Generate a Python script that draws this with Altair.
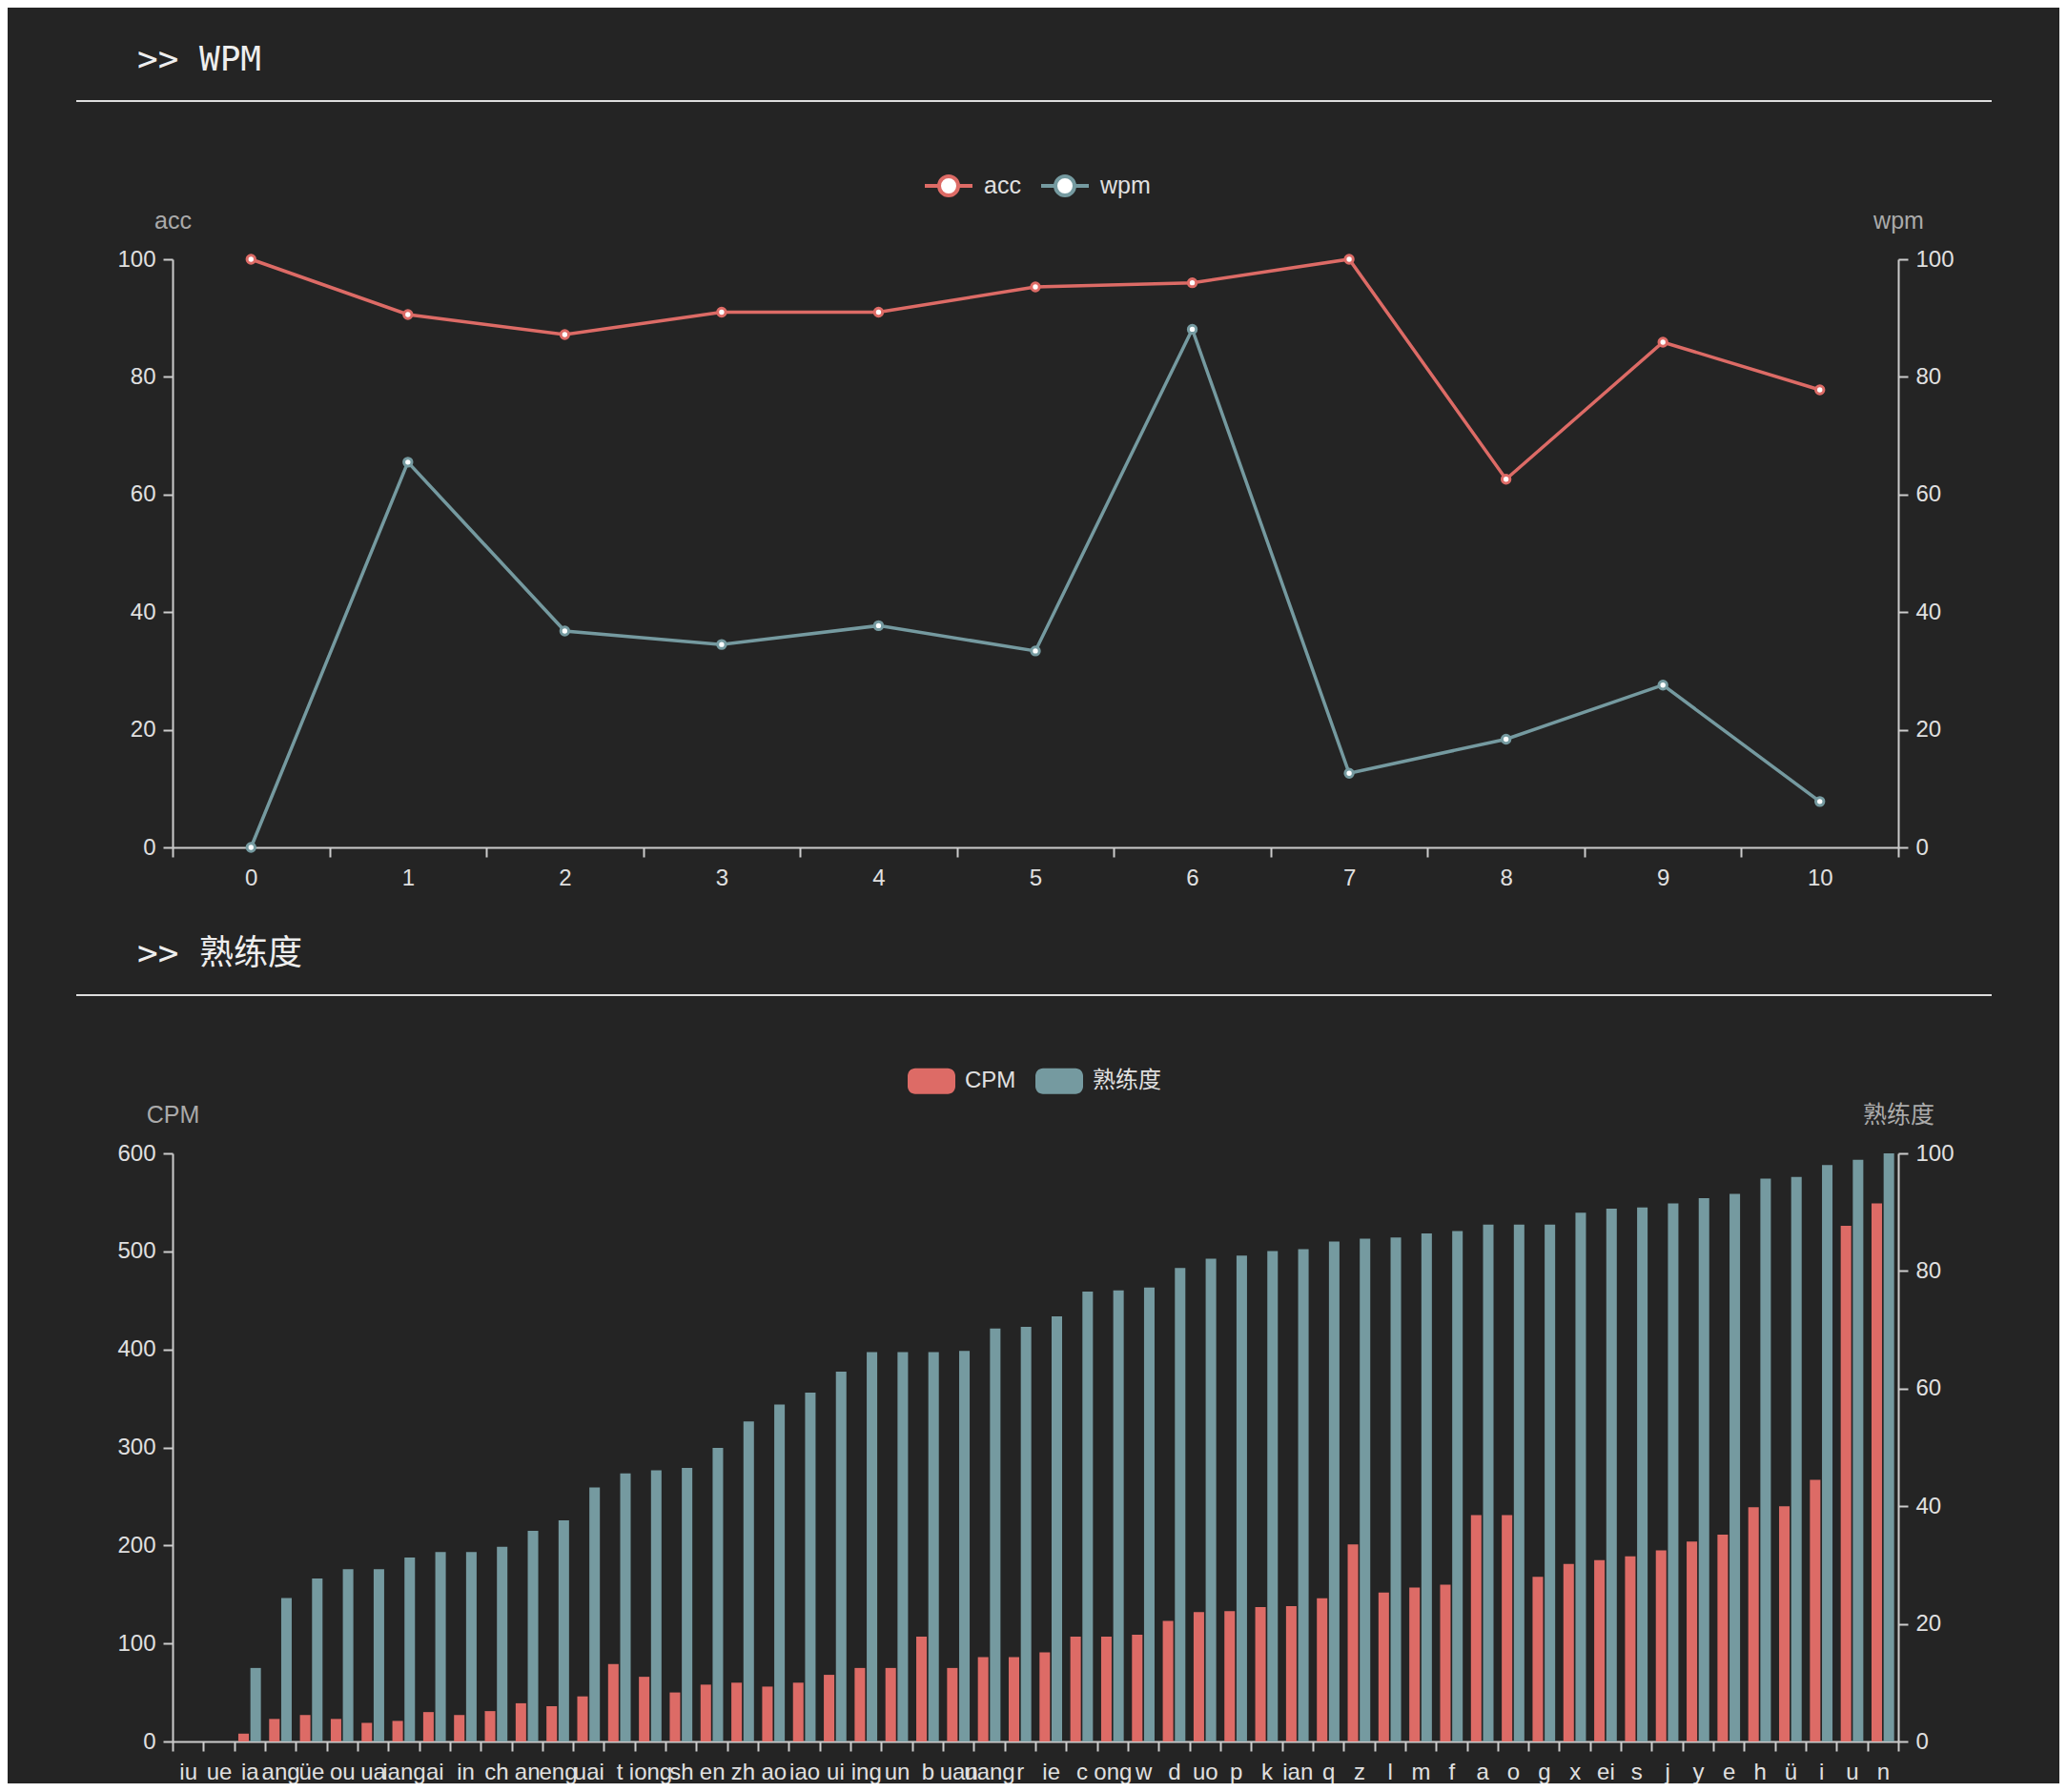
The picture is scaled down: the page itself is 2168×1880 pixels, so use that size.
import altair as alt
import pandas as pd

# ---------------- WPM panel data ----------------
wpm_idx = list(range(11))
acc_values = [100, 90.6, 87.2, 91.0, 91.0, 95.3, 96.0, 100, 62.6, 85.9, 77.8]
wpm_values = [0, 65.5, 36.8, 34.5, 37.7, 33.4, 88.1, 12.6, 18.4, 27.6, 7.8]
line_series = ["acc", "wpm"]

# ---------------- 熟练度 panel data ----------------
keys = ["iu", "ue", "ia", "ang", "üe", "ou", "ua", "iang", "ai", "in",
        "ch", "an", "eng", "uai", "t", "iong", "sh", "en", "zh", "ao",
        "iao", "ui", "ing", "un", "b", "uan", "uang", "r", "ie", "c",
        "ong", "w", "d", "uo", "p", "k", "ian", "q", "z", "l",
        "m", "f", "a", "o", "g", "x", "ei", "s", "j", "y",
        "e", "h", "ü", "i", "u", "n"]
cpm_values = [0, 0, 8, 23, 27, 23, 19, 21, 30, 27,
              31, 39, 36, 46, 79, 66, 50, 58, 60, 56,
              60, 68, 75, 75, 107, 75, 86, 86, 91, 107,
              107, 109, 123, 132, 133, 137, 138, 146, 201, 152,
              157, 160, 231, 231, 168, 181, 185, 189, 195, 204,
              211, 239, 240, 267, 526, 549]
prof_values = [0, 0, 12.5, 24.4, 27.7, 29.3, 29.3, 31.3, 32.2, 32.2,
               33.1, 35.8, 37.6, 43.2, 45.6, 46.1, 46.5, 49.9, 54.4, 57.3,
               59.3, 62.9, 66.2, 66.2, 66.2, 66.4, 70.2, 70.5, 72.3, 76.5,
               76.7, 77.2, 80.5, 82.1, 82.6, 83.4, 83.7, 85.0, 85.5, 85.7,
               86.4, 86.8, 87.9, 87.9, 87.9, 89.9, 90.6, 90.8, 91.5, 92.4,
               93.1, 95.7, 96.0, 98.0, 98.9, 100]
bar_series = ["CPM", "熟练度"]

panel_titles = [">> WPM", ">> 熟练度"]

# ---------------- tables ----------------
line_df = pd.DataFrame({
    "idx": wpm_idx * 2,
    "series": ["acc"] * len(wpm_idx) + ["wpm"] * len(wpm_idx),
    "value": acc_values + wpm_values,
})
bar_df = pd.DataFrame({
    "key": keys * 2,
    "series": ["CPM"] * len(keys) + ["熟练度"] * len(keys),
    "value": cpm_values + prof_values,
})

# ---------------- style ----------------
W, H = 1810, 617
RED, TEAL = "#dd6b66", "#759aa0"
FONT = "Liberation Sans, Noto Sans CJK SC, sans-serif"
MONO = "DejaVu Sans Mono, Noto Sans CJK SC, monospace"
BG = "#242424"

LINE_SYM = "M-1,0L-0.42,0M0.42,0L1,0M0.4,0A0.4,0.4,0,1,1,-0.4,0A0.4,0.4,0,1,1,0.4,0Z"
RECT_SYM = ("M-0.68,-0.54L0.68,-0.54A0.32,0.32,0,0,1,1,-0.22L1,0.22"
            "A0.32,0.32,0,0,1,0.68,0.54L-0.68,0.54A0.32,0.32,0,0,1,-1,0.22"
            "L-1,-0.22A0.32,0.32,0,0,1,-0.68,-0.54Z")


def y_axis(orient, title, values):
    return alt.Axis(
        orient=orient, title=title, values=values, grid=False,
        titleAngle=0, titleX=0, titleY=-33, titleAlign="center",
        titleBaseline="alphabetic", titleFontSize=25, titleColor="#aaaaaa",
        titleFontWeight="normal", titleFont=FONT,
        tickSize=10, labelPadding=8,
    )


def header(title):
    d = pd.DataFrame({"t": [title]})
    txt = alt.Chart(d).mark_text(
        align="left", baseline="alphabetic", font=MONO, fontSize=36, color="#eeeeee"
    ).encode(x=alt.value(-37), y=alt.value(-198), text="t:N")
    rule = alt.Chart(d).mark_rule(color="#dddddd", strokeWidth=2).encode(
        x=alt.value(-101), x2=alt.value(1908), y=alt.value(-166)
    )
    return txt, rule


# ---------------- top panel ----------------
x_top = alt.X(
    "idx:O",
    bandPosition=0.5,
    scale=alt.Scale(type="band", paddingInner=0, paddingOuter=0),
    axis=alt.Axis(title=None, tickBand="extent", labelAngle=0, labelPadding=10, grid=False),
)

acc_line = alt.Chart(line_df).transform_filter(alt.datum.series == "acc").mark_line(
    strokeWidth=3.5, color=RED
).encode(
    x=x_top,
    y=alt.Y("value:Q", scale=alt.Scale(domain=[0, 100]), axis=y_axis("left", "acc", [0, 20, 40, 60, 80, 100])),
)
wpm_line = alt.Chart(line_df).transform_filter(alt.datum.series == "wpm").mark_line(
    strokeWidth=3.5, color=TEAL
).encode(
    x=x_top,
    y=alt.Y("value:Q", scale=alt.Scale(domain=[0, 100]), axis=y_axis("right", "wpm", [0, 20, 40, 60, 80, 100])),
)
points = alt.Chart(line_df).mark_point(filled=False, size=70, strokeWidth=3, opacity=1).encode(
    x=x_top,
    y=alt.Y("value:Q", scale=alt.Scale(domain=[0, 100]), axis=None),
    color=alt.Color(
        "series:N",
        scale=alt.Scale(domain=line_series, range=[RED, TEAL]),
        legend=alt.Legend(
            title=None, orient="none", legendX=787, legendY=-104, direction="horizontal",
            symbolType=LINE_SYM, symbolSize=2500, symbolStrokeWidth=4,
            symbolFillColor="white",
            labelFontSize=25, labelColor="#e0e0e0", labelFont=FONT,
            labelOffset=10, columnPadding=13, padding=0,
        ),
    ),
    fill=alt.value("white"),
)
t1, r1 = header(panel_titles[0])
bound = alt.Chart(pd.DataFrame({"t": [0]})).mark_rule(opacity=0, strokeWidth=1).encode(
    x=alt.value(-173), x2=alt.value(1979), y=alt.value(-264)
)

top = alt.layer(acc_line, wpm_line, points, t1, r1, bound).resolve_scale(y="independent").properties(
    width=W, height=H
)

# ---------------- bottom panel ----------------
x_bot = alt.X(
    "key:N",
    sort=keys,
    scale=alt.Scale(paddingInner=0, paddingOuter=0),
    axis=alt.Axis(title=None, tickBand="extent", labelAngle=0, labelOverlap=False,
                  labelPadding=10, grid=False),
)
xoff = alt.XOffset("series:N", scale=alt.Scale(domain=bar_series, paddingInner=0.13, paddingOuter=0.34))
bar_color = alt.Color(
    "series:N",
    scale=alt.Scale(domain=bar_series, range=[RED, TEAL]),
    legend=alt.Legend(
        title=None, orient="none", legendX=771, legendY=-101, direction="horizontal",
        symbolType=RECT_SYM, symbolSize=2500, symbolStrokeWidth=0,
        labelFontSize=24, labelColor="#e0e0e0", labelFont=FONT,
        labelOffset=10, columnPadding=20, padding=0,
    ),
)
cpm_bars = alt.Chart(bar_df).transform_filter(alt.datum.series == "CPM").mark_bar().encode(
    x=x_bot, xOffset=xoff,
    y=alt.Y("value:Q", scale=alt.Scale(domain=[0, 600]),
            axis=y_axis("left", "CPM", [0, 100, 200, 300, 400, 500, 600])),
    color=bar_color,
)
prof_bars = alt.Chart(bar_df).transform_filter(alt.datum.series == "熟练度").mark_bar().encode(
    x=x_bot, xOffset=xoff,
    y=alt.Y("value:Q", scale=alt.Scale(domain=[0, 100]),
            axis=y_axis("right", "熟练度", [0, 20, 40, 60, 80, 100])),
    color=bar_color,
)
t2, r2 = header(panel_titles[1])

bottom = alt.layer(cpm_bars, prof_bars, t2, r2).resolve_scale(y="independent").properties(
    width=W, height=H
)

chart = alt.vconcat(top, bottom, spacing=321, bounds="flush").resolve_scale(
    color="independent"
).resolve_legend(color="independent").configure(
    background=BG, padding=0
).configure_view(stroke=None).configure_axis(
    domainColor="#cccccc", tickColor="#cccccc", domainWidth=2, tickWidth=2,
    tickSize=10, labelColor="#e0e0e0", labelFontSize=24, labelFont=FONT, grid=False,
)

chart.save("out.html", embed_options={"renderer": "svg", "actions": False})
